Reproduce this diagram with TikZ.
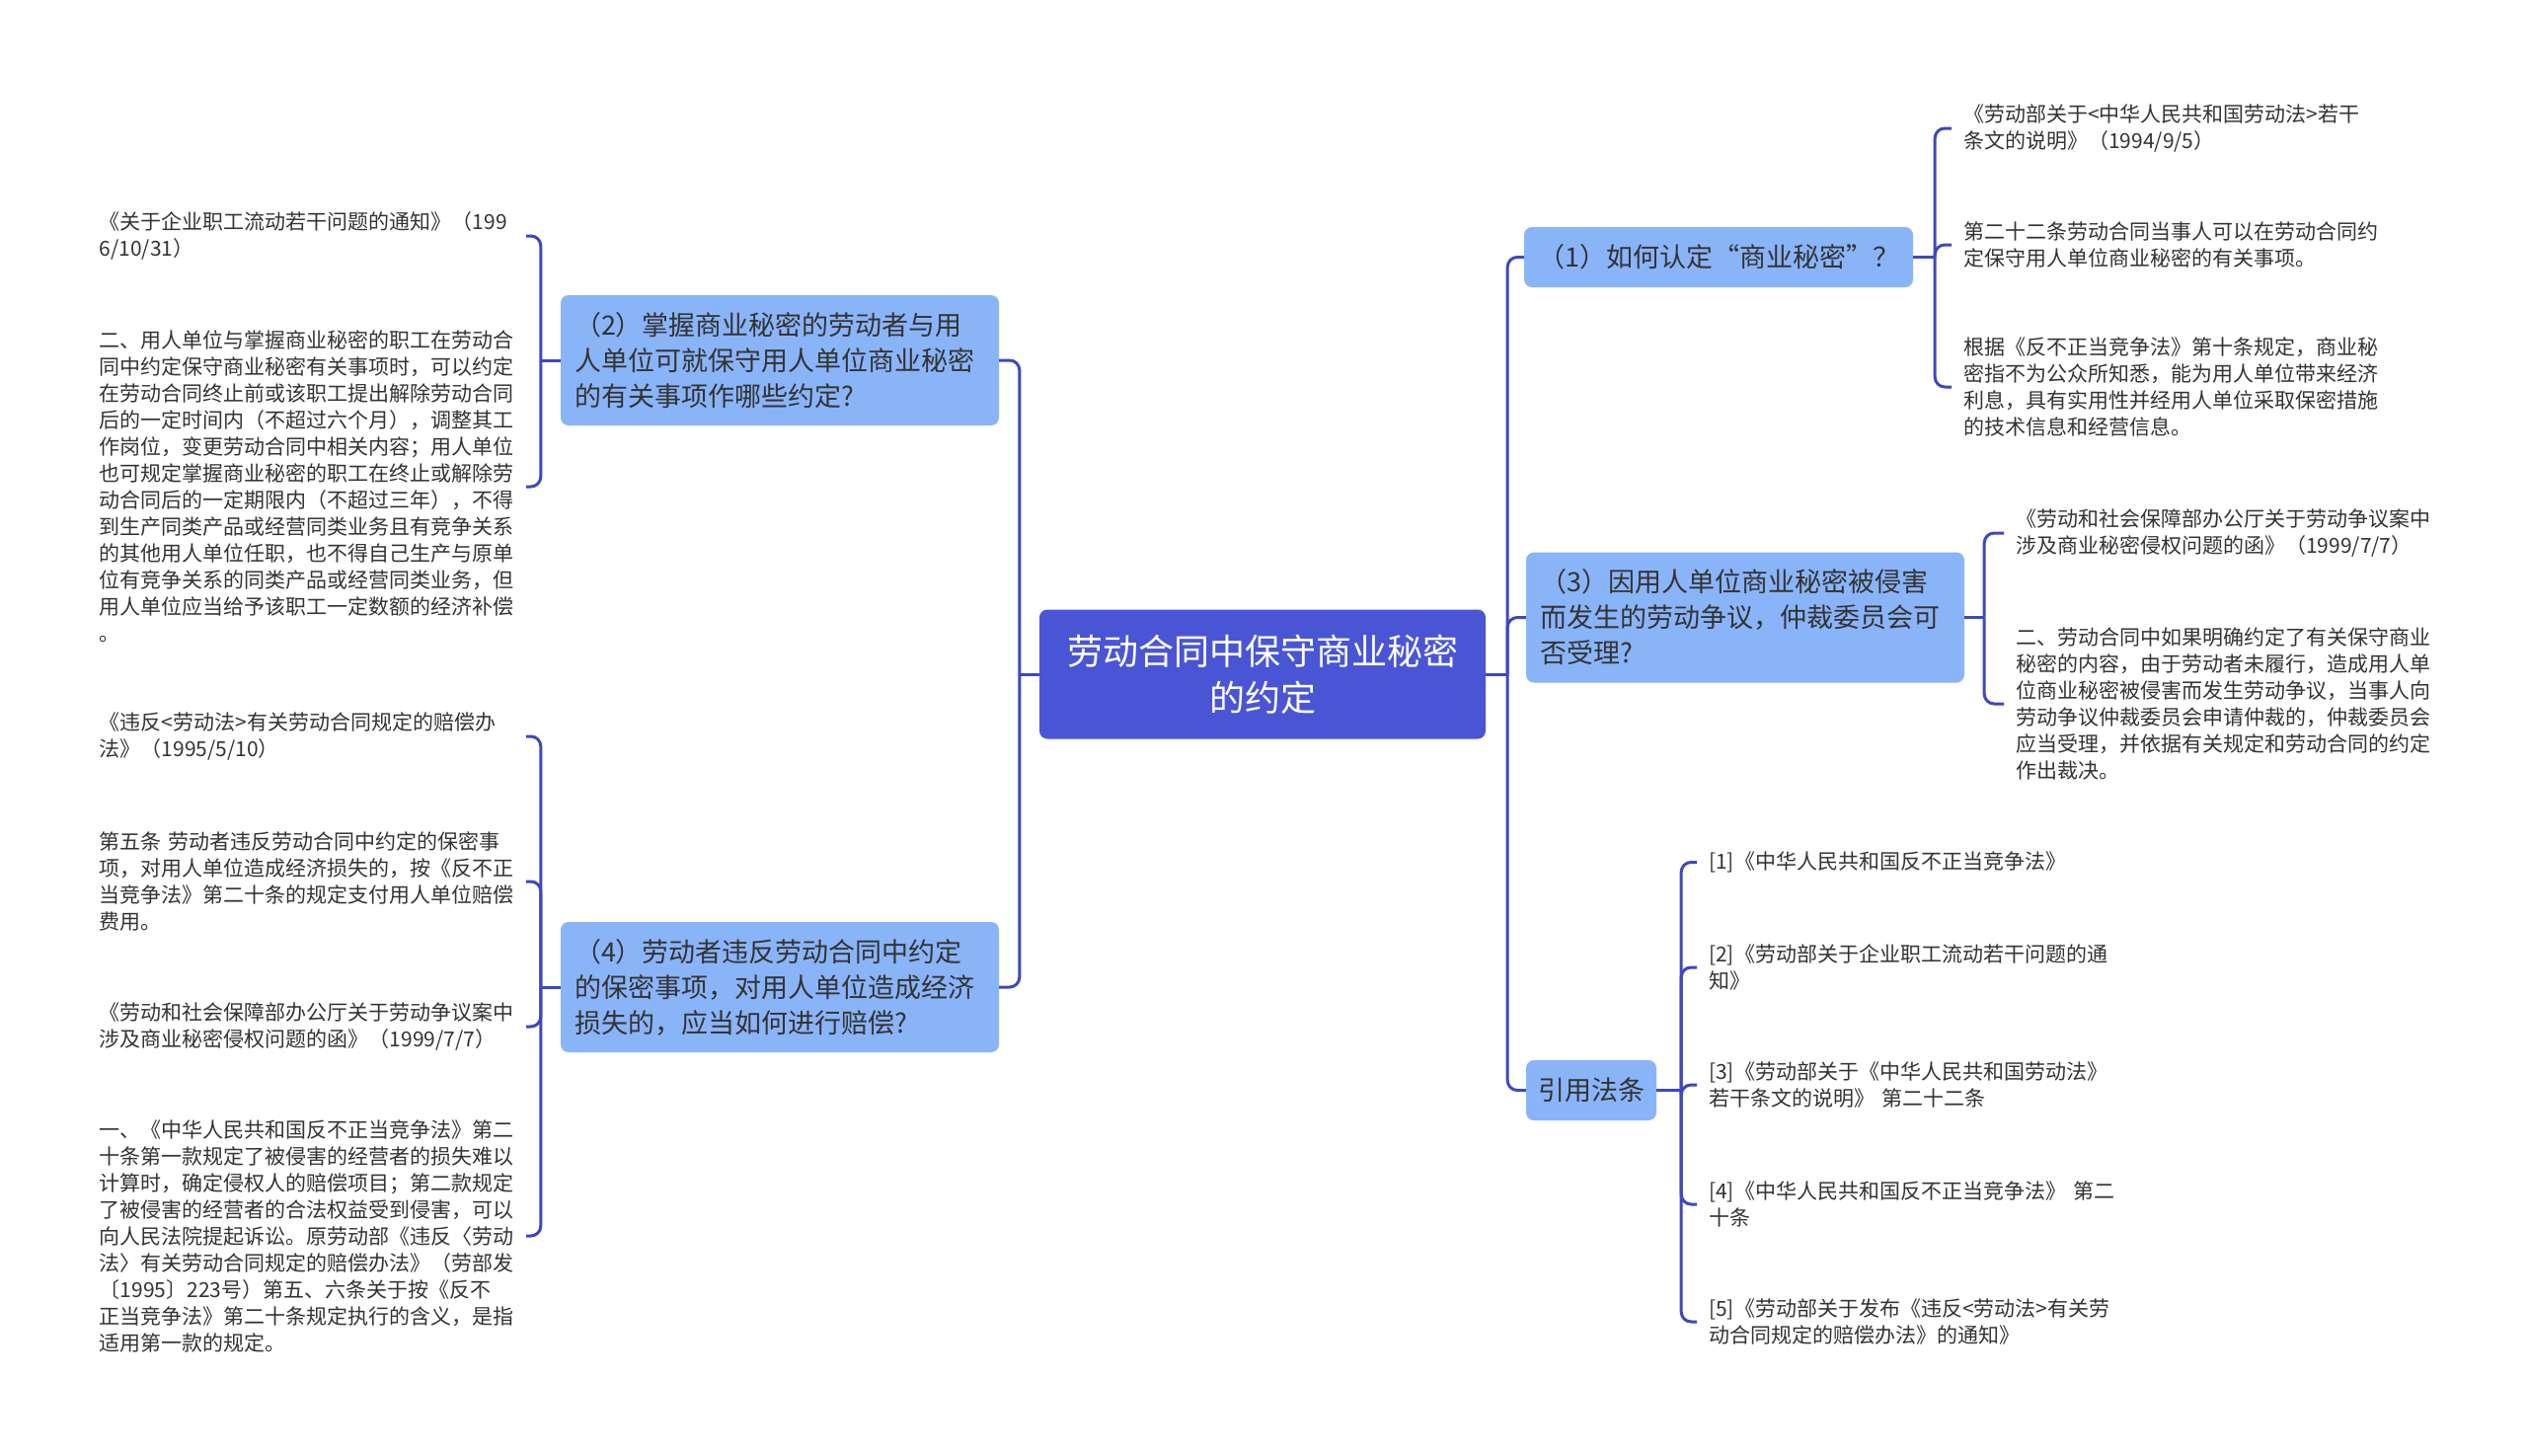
\documentclass[tikz,border=0pt]{standalone}
\usepackage{fontspec}
\setmainfont{Noto Sans CJK SC}
\definecolor{cfill}{RGB}{74,85,213}
\definecolor{bfill}{RGB}{138,180,248}
\definecolor{lcol}{RGB}{62,72,190}
\definecolor{tcol}{RGB}{51,51,51}
\begin{document}
\begin{tikzpicture}[x=1pt,y=-1pt,
  conn/.style={draw=lcol,line width=3pt,rounded corners=10pt},
  rootbox/.style={fill=cfill,rounded corners=8pt,text=white,font=\fontsize{36}{47}\selectfont,align=center,minimum width=452pt,minimum height=131pt,inner sep=0pt},
  topic/.style={fill=bfill,rounded corners=8pt,text=tcol,font=\fontsize{27}{36}\selectfont,inner xsep=14pt,inner ysep=0pt},
  topicwide/.style={topic,text width=416pt,align=left,minimum height=132pt},
  leaf/.style={text=tcol,font=\fontsize{21}{27}\selectfont,text width=420pt,align=left,inner xsep=12pt,inner ysep=0pt},
]
\useasboundingbox (0,0) rectangle (2560,1475);
\fill[white] (0,0) rectangle (2560,1475);

% root
\node[rootbox] (ctr) at (1279,683) {劳动合同中保守商业秘密\\的约定};

% topics
\node[topicwide] (b2) at (790,365) {（2）掌握商业秘密的劳动者与用\\人单位可就保守用人单位商业秘密\\的有关事项作哪些约定?};
\node[topicwide] (b4) at (790,1000) {（4）劳动者违反劳动合同中约定\\的保密事项，对用人单位造成经济\\损失的，应当如何进行赔偿?};
\node[topic,align=center,minimum width=390pt,minimum height=61pt] (b1) at (1741,260.5) {（1）如何认定“商业秘密”？};
\node[topicwide] (b3) at (1768,625.5) {（3）因用人单位商业秘密被侵害\\而发生的劳动争议，仲裁委员会可\\否受理?};
\node[topic,align=center,minimum width=132pt,minimum height=61pt,inner xsep=0pt] (b5) at (1612,1104.5) {引用法条};

% leaves of (2)
\node[leaf,anchor=east] (l2a) at (533,239) {《关于企业职工流动若干问题的通知》（199\\6/10/31）};
\node[leaf,anchor=east] (l2b) at (533,493) {二、用人单位与掌握商业秘密的职工在劳动合\\同中约定保守商业秘密有关事项时，可以约定\\在劳动合同终止前或该职工提出解除劳动合同\\后的一定时间内（不超过六个月），调整其工\\作岗位，变更劳动合同中相关内容；用人单位\\也可规定掌握商业秘密的职工在终止或解除劳\\动合同后的一定期限内（不超过三年），不得\\到生产同类产品或经营同类业务且有竞争关系\\的其他用人单位任职，也不得自己生产与原单\\位有竞争关系的同类产品或经营同类业务，但\\用人单位应当给予该职工一定数额的经济补偿\\。};

% leaves of (4)
\node[leaf,anchor=east] (l4a) at (533,746) {《违反<劳动法>有关劳动合同规定的赔偿办\\法》（1995/5/10）};
\node[leaf,anchor=east] (l4b) at (533,893) {第五条~劳动者违反劳动合同中约定的保密事\\项，对用人单位造成经济损失的，按《反不正\\当竞争法》第二十条的规定支付用人单位赔偿\\费用。};
\node[leaf,anchor=east] (l4c) at (533,1040) {《劳动和社会保障部办公厅关于劳动争议案中\\涉及商业秘密侵权问题的函》（1999/7/7）};
\node[leaf,anchor=east] (l4d) at (533,1252) {一、《中华人民共和国反不正当竞争法》第二\\十条第一款规定了被侵害的经营者的损失难以\\计算时，确定侵权人的赔偿项目；第二款规定\\了被侵害的经营者的合法权益受到侵害，可以\\向人民法院提起诉讼。原劳动部《违反〈劳动\\法〉有关劳动合同规定的赔偿办法》（劳部发\\〔1995〕223号）第五、六条关于按《反不\\正当竞争法》第二十条规定执行的含义，是指\\适用第一款的规定。};

% leaves of (1)
\node[leaf,anchor=west] (r1a) at (1977,130) {《劳动部关于<中华人民共和国劳动法>若干\\条文的说明》（1994/9/5）};
\node[leaf,anchor=west] (r1b) at (1977,248) {第二十二条劳动合同当事人可以在劳动合同约\\定保守用人单位商业秘密的有关事项。};
\node[leaf,anchor=west] (r1c) at (1977,392) {根据《反不正当竞争法》第十条规定，商业秘\\密指不为公众所知悉，能为用人单位带来经济\\利息，具有实用性并经用人单位采取保密措施\\的技术信息和经营信息。};

% leaves of (3)
\node[leaf,anchor=west] (r3a) at (2030,540) {《劳动和社会保障部办公厅关于劳动争议案中\\涉及商业秘密侵权问题的函》（1999/7/7）};
\node[leaf,anchor=west] (r3b) at (2030,713) {二、劳动合同中如果明确约定了有关保守商业\\秘密的内容，由于劳动者未履行，造成用人单\\位商业秘密被侵害而发生劳动争议，当事人向\\劳动争议仲裁委员会申请仲裁的，仲裁委员会\\应当受理，并依据有关规定和劳动合同的约定\\作出裁决。};

% leaves of 引用法条
\node[leaf,anchor=west] (r5a) at (1719,873.5) {[1]《中华人民共和国反不正当竞争法》};
\node[leaf,anchor=west] (r5b) at (1719,980) {[2]《劳动部关于企业职工流动若干问题的通\\知》};
\node[leaf,anchor=west] (r5c) at (1719,1099) {[3]《劳动部关于《中华人民共和国劳动法》\\若干条文的说明》~第二十二条};
\node[leaf,anchor=west] (r5d) at (1719,1220) {[4]《中华人民共和国反不正当竞争法》~第二\\十条};
\node[leaf,anchor=west] (r5e) at (1719,1339) {[5]《劳动部关于发布《违反<劳动法>有关劳\\动合同规定的赔偿办法》的通知》};

% root connectors
\draw[conn] (ctr.west) -- ++(-20,0) coordinate (jl);
\draw[conn] (jl) |- (b2.east);
\draw[conn] (jl) |- (b4.east);
\draw[conn] (ctr.east) -- ++(22,0) coordinate (jr);
\draw[conn] (jr) |- (b1.west);
\draw[conn] (jr) |- (b3.west);
\draw[conn] (jr) |- (b5.west);

% (2)
\draw[conn] (b2.west) -- ++(-20,0) coordinate (j2);
\draw[conn] (j2) |- (l2a.east);
\draw[conn] (j2) |- (l2b.east);
% (4)
\draw[conn] (b4.west) -- ++(-20,0) coordinate (j4);
\draw[conn] (j4) |- (l4a.east);
\draw[conn] (j4) |- (l4b.east);
\draw[conn] (j4) |- (l4c.east);
\draw[conn] (j4) |- (l4d.east);
% (1)
\draw[conn] (b1.east) -- ++(22,0) coordinate (j1);
\draw[conn] (j1) |- (r1a.west);
\draw[conn] (j1) |- (r1b.west);
\draw[conn] (j1) |- (r1c.west);
% (3)
\draw[conn] (b3.east) -- ++(20,0) coordinate (j3);
\draw[conn] (j3) |- (r3a.west);
\draw[conn] (j3) |- (r3b.west);
% 引用法条
\draw[conn] (b5.east) -- ++(25,0) coordinate (j5);
\draw[conn] (j5) |- (r5a.west);
\draw[conn] (j5) |- (r5b.west);
\draw[conn] (j5) |- (r5c.west);
\draw[conn] (j5) |- (r5d.west);
\draw[conn] (j5) |- (r5e.west);
\end{tikzpicture}
\end{document}
